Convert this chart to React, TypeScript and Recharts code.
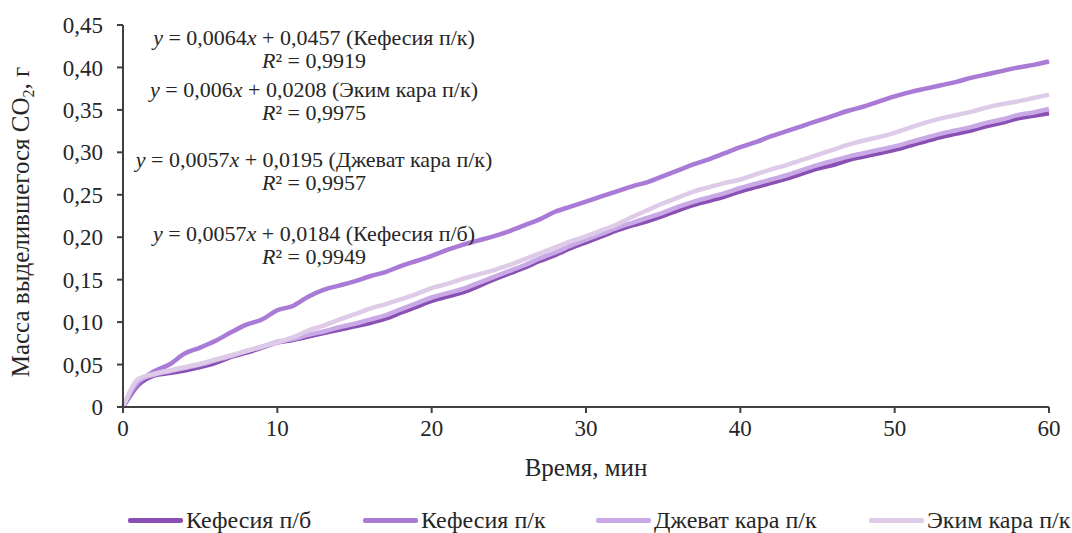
import React from "react";
import { LineChart, Line, XAxis, YAxis } from "recharts";

// Time, minutes
const minutes = Array.from({ length: 61 }, (_, i) => i);

// Mass of released CO2, g — one reading per minute
const kefesiaPB = [
  0, 0.026, 0.037, 0.04, 0.043, 0.047, 0.052, 0.059, 0.064, 0.07, 0.076,
  0.079, 0.083, 0.087, 0.091, 0.095, 0.099, 0.104, 0.111, 0.118, 0.125,
  0.13, 0.135, 0.142, 0.15, 0.157, 0.164, 0.172, 0.179, 0.187, 0.194,
  0.201, 0.208, 0.214, 0.219, 0.225, 0.232, 0.238, 0.243, 0.248, 0.254,
  0.259, 0.264, 0.269, 0.275, 0.281, 0.285, 0.291, 0.295, 0.299, 0.303,
  0.308, 0.313, 0.318, 0.322, 0.326, 0.331, 0.335, 0.34, 0.343, 0.346,
];
const kefesiaPK = [
  0, 0.028, 0.042, 0.05, 0.063, 0.07, 0.078, 0.088, 0.097, 0.103, 0.114,
  0.119, 0.13, 0.138, 0.143, 0.148, 0.154, 0.159, 0.166, 0.172, 0.178,
  0.185, 0.191, 0.196, 0.201, 0.207, 0.214, 0.221, 0.23, 0.236, 0.242,
  0.248, 0.254, 0.26, 0.265, 0.272, 0.279, 0.286, 0.292, 0.299, 0.306,
  0.312, 0.319, 0.325, 0.331, 0.337, 0.343, 0.349, 0.354, 0.36, 0.366,
  0.371, 0.375, 0.379, 0.383, 0.388, 0.392, 0.396, 0.4, 0.403, 0.407,
];
const dzhevatPK = [
  0, 0.031, 0.038, 0.042, 0.046, 0.05, 0.055, 0.06, 0.066, 0.071, 0.077,
  0.08, 0.085, 0.089, 0.094, 0.098, 0.103, 0.108, 0.115, 0.122, 0.129,
  0.134, 0.139, 0.146, 0.153, 0.16, 0.167, 0.175, 0.182, 0.19, 0.197,
  0.204, 0.211, 0.217, 0.223, 0.229, 0.236, 0.242, 0.247, 0.252, 0.258,
  0.263, 0.268, 0.273, 0.279, 0.285, 0.29, 0.295, 0.299, 0.303, 0.307,
  0.312, 0.317, 0.322, 0.326, 0.33, 0.335, 0.339, 0.344, 0.347, 0.351,
];
const ekimPK = [
  0, 0.033, 0.039, 0.043, 0.047, 0.051, 0.056, 0.061, 0.066, 0.071, 0.076,
  0.082, 0.09, 0.096, 0.103, 0.109, 0.116, 0.121, 0.127, 0.133, 0.14,
  0.145, 0.151, 0.156, 0.161, 0.167, 0.174, 0.181, 0.188, 0.195, 0.201,
  0.208, 0.215, 0.224, 0.232, 0.24, 0.247, 0.254, 0.259, 0.264, 0.268,
  0.274, 0.28, 0.285, 0.291, 0.297, 0.303, 0.309, 0.314, 0.318, 0.323,
  0.329, 0.335, 0.34, 0.344, 0.348, 0.353, 0.357, 0.36, 0.364, 0.368,
];

const xTicks = [0, 10, 20, 30, 40, 50, 60];
const yTicks = [0, 0.05, 0.1, 0.15, 0.2, 0.25, 0.3, 0.35, 0.4, 0.45];

const seriesNames = ["Кефесия п/б", "Кефесия п/к", "Джеват кара п/к", "Эким кара п/к"];
const seriesValues = [kefesiaPB, kefesiaPK, dzhevatPK, ekimPK];
const seriesColors = ["#8a4fb3", "#a97bd6", "#c9aae6", "#ddcbe8"];

// Trend-line annotations: slope, intercept, R², series name
const trendLines = [
  { a: "0,0064", b: "0,0457", r2: "0,9919", name: "Кефесия п/к" },
  { a: "0,006", b: "0,0208", r2: "0,9975", name: "Эким кара п/к" },
  { a: "0,0057", b: "0,0195", r2: "0,9957", name: "Джеват кара п/к" },
  { a: "0,0057", b: "0,0184", r2: "0,9949", name: "Кефесия п/б" },
];
const trendTops = [26, 78, 148, 222];

const keys = ["s0", "s1", "s2", "s3"];
const data = minutes.map((t, i) => {
  const row: Record<string, number> = { t };
  seriesValues.forEach((vals, k) => {
    row[keys[k]] = vals[i];
  });
  return row;
});

const FONT = "'Liberation Serif', 'Times New Roman', serif";
const TEXT = "#262626";
const AXIS = "#404040";

const fmtY = (v: number) => (v === 0 ? "0" : v.toFixed(2).replace(".", ","));

const legendX = [128, 363, 596, 869];

export default function App() {
  return (
    <div style={{ position: "absolute", left: 0, top: 0, width: 1072, height: 533, background: "#fff", fontFamily: FONT }}>
      <LineChart
        width={1072}
        height={533}
        data={data}
        margin={{ top: 25, right: 23, left: 0, bottom: 46 }}
        style={{ fontFamily: FONT }}
      >
        <XAxis
          dataKey="t"
          type="number"
          domain={[0, 60]}
          ticks={xTicks}
          height={80}
          axisLine={{ stroke: AXIS, strokeWidth: 2 }}
          tickLine={{ stroke: AXIS, strokeWidth: 2 }}
          tickSize={6}
          tickMargin={7}
          tick={{ fill: TEXT, fontSize: 23, fontFamily: FONT }}
          label={{
            content: (props: any) => {
              const vb = props.viewBox || {};
              return (
                <text x={vb.x + vb.width / 2} y={476} textAnchor="middle" fill={TEXT} fontSize={25} fontFamily={FONT}>
                  Время, мин
                </text>
              );
            },
          }}
        />
        <YAxis
          type="number"
          domain={[0, 0.45]}
          ticks={yTicks}
          width={123}
          axisLine={{ stroke: AXIS, strokeWidth: 2 }}
          tickLine={{ stroke: AXIS, strokeWidth: 2 }}
          tickSize={6}
          tickMargin={14}
          tickFormatter={fmtY}
          tick={{ fill: TEXT, fontSize: 23, fontFamily: FONT }}
          label={{
            content: (props: any) => {
              const vb = props.viewBox || {};
              const cy = vb.y + vb.height / 2 + 6;
              return (
                <text
                  x={29}
                  y={cy}
                  transform={`rotate(-90, 29, ${cy})`}
                  textAnchor="middle"
                  fill={TEXT}
                  fontSize={25}
                  fontFamily={FONT}
                >
                  Масса выделившегося CO
                  <tspan fontSize={16} dy={5}>2</tspan>
                  <tspan dy={-5}>, г</tspan>
                </text>
              );
            },
          }}
        />
        {keys.map((k, i) => (
          <Line
            key={k}
            dataKey={k}
            name={seriesNames[i]}
            type="monotone"
            stroke={seriesColors[i]}
            strokeWidth={4.5}
            dot={false}
            activeDot={false}
            isAnimationActive={false}
          />
        ))}
      </LineChart>

      {trendLines.map((tl, i) => (
        <div
          key={tl.name}
          style={{
            position: "absolute",
            left: 114,
            width: 400,
            top: trendTops[i],
            textAlign: "center",
            fontSize: 22,
            lineHeight: "23px",
            color: TEXT,
            whiteSpace: "nowrap",
            fontFamily: FONT,
          }}
        >
          <div>
            <i>y</i> = {tl.a}
            <i>x</i> + {tl.b} ({tl.name})
          </div>
          <div>
            <i>R</i>² = {tl.r2}
          </div>
        </div>
      ))}

      {seriesNames.map((name, i) => (
        <div
          key={name}
          style={{
            position: "absolute",
            left: legendX[i],
            top: 506,
            height: 28,
            display: "flex",
            alignItems: "center",
            fontSize: 24,
            color: TEXT,
            whiteSpace: "nowrap",
            fontFamily: FONT,
          }}
        >
          <span style={{ display: "inline-block", width: 55, height: 5, background: seriesColors[i], marginRight: 3, borderRadius: 2 }} />
          {name}
        </div>
      ))}
    </div>
  );
}
